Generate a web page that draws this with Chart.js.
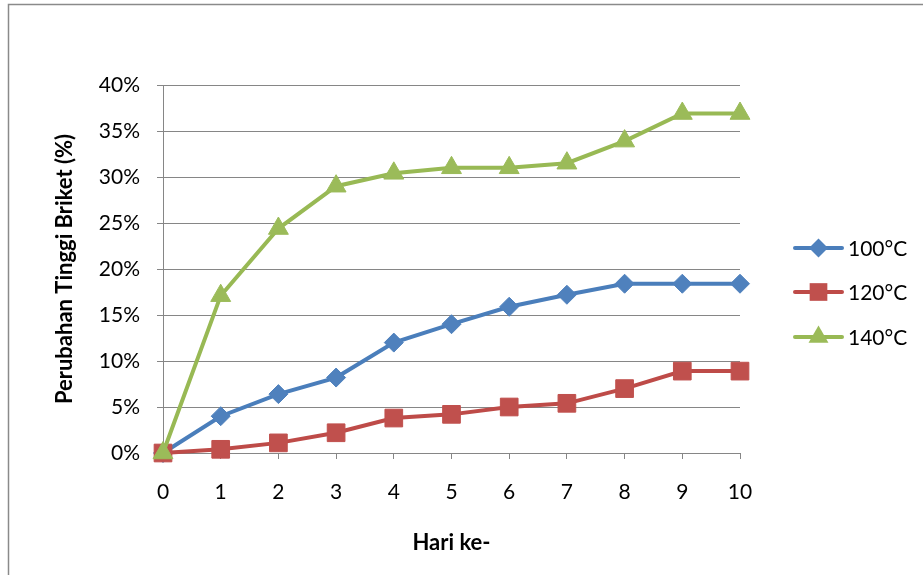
<!DOCTYPE html>
<html>
<head>
<meta charset="utf-8">
<script src="https://cdn.jsdelivr.net/npm/chart.js@4/dist/chart.umd.min.js"></script>
<style>
  html, body { margin: 0; padding: 0; background: #ffffff; }
  #wrap { width: 923px; height: 575px; position: relative; }
</style>
</head>
<body>
<div id="wrap"><canvas id="chart" width="923" height="575"></canvas></div>
<script>
// Days of observation
const days = [0, 1, 2, 3, 4, 5, 6, 7, 8, 9, 10];

// Change in briquette height (%) per drying temperature
const series100 = [0, 4.0, 6.4, 8.2, 12.0, 14.0, 15.9, 17.2, 18.4, 18.4, 18.4];
const series120 = [0, 0.4, 1.1, 2.2, 3.8, 4.2, 5.0, 5.4, 7.0, 8.9, 8.9];
const series140 = [0, 17.1, 24.4, 29.0, 30.4, 31.0, 31.0, 31.5, 33.9, 36.9, 36.9];

const seriesLabels = ['100°C', '120°C', '140°C'];

const FONT = 'Lato, "Open Sans", "Liberation Sans", sans-serif';
const GRID = '#868686';

function toPoints(values) {
  return values.map((v, i) => ({ x: days[i], y: v }));
}

const styles = [
  { line: '#4A7EBB', fill: '#4F81BD', shape: 'rectRot', radius: 9.5 },
  { line: '#BE4B48', fill: '#C0504D', shape: 'rect', radius: 12.5 },
  { line: '#98B954', fill: '#9BBB59', shape: 'triangle', radius: 11.5 }
];

const datasets = [series100, series120, series140].map((vals, i) => ({
  label: seriesLabels[i],
  data: toPoints(vals),
  borderColor: styles[i].line,
  backgroundColor: styles[i].fill,
  borderWidth: 4,
  pointStyle: styles[i].shape,
  pointRadius: styles[i].radius,
  pointHoverRadius: styles[i].radius,
  pointBackgroundColor: styles[i].fill,
  pointBorderColor: styles[i].fill,
  pointBorderWidth: 1,
  tension: 0,
  clip: false,
  order: 3 - i
}));

// Marker drawing for the legend, same shapes as the series points
function drawMarker(ctx, shape, x, y, r) {
  ctx.beginPath();
  if (shape === 'rectRot') {
    ctx.moveTo(x - r, y);
    ctx.lineTo(x, y - r);
    ctx.lineTo(x + r, y);
    ctx.lineTo(x, y + r);
  } else if (shape === 'rect') {
    const s = Math.SQRT1_2 * r;
    ctx.rect(x - s, y - s, 2 * s, 2 * s);
  } else {
    const w = r * Math.sqrt(3) / 2;
    ctx.moveTo(x, y - r);
    ctx.lineTo(x + w, y + r / 2);
    ctx.lineTo(x - w, y + r / 2);
  }
  ctx.closePath();
  ctx.fill();
}

const frameAndLegend = {
  id: 'frameAndLegend',
  beforeDraw(chart) {
    const ctx = chart.ctx;
    ctx.save();
    ctx.strokeStyle = '#8a8a8a';
    ctx.lineWidth = 1.5;
    ctx.strokeRect(8.5, 4.5, chart.width + 10, chart.height + 10);
    ctx.restore();
  },
  afterDraw(chart) {
    const ctx = chart.ctx;
    ctx.save();
    const rowsY = [248, 292, 337];
    chart.data.datasets.forEach((ds, i) => {
      const y = rowsY[i];
      ctx.strokeStyle = ds.borderColor;
      ctx.lineWidth = 4;
      ctx.lineCap = 'round';
      ctx.beginPath();
      ctx.moveTo(795, y);
      ctx.lineTo(842, y);
      ctx.stroke();
      ctx.fillStyle = ds.pointBackgroundColor;
      drawMarker(ctx, ds.pointStyle, 818.5, y, ds.pointRadius);
      ctx.fillStyle = '#000000';
      ctx.font = '21px ' + FONT;
      ctx.textAlign = 'left';
      ctx.textBaseline = 'middle';
      ctx.fillText(ds.label, 848, y + 1);
    });
    ctx.restore();
  }
};

new Chart(document.getElementById('chart'), {
  type: 'line',
  data: { datasets },
  plugins: [frameAndLegend],
  options: {
    responsive: false,
    animation: false,
    events: [],
    layout: { padding: { left: 0, right: 183, top: 85, bottom: 0 } },
    plugins: {
      legend: { display: false },
      tooltip: { enabled: false },
      title: { display: false }
    },
    scales: {
      x: {
        type: 'linear',
        min: 0,
        max: 10,
        afterFit(scale) { scale.height = 122; },
        ticks: {
          stepSize: 1,
          padding: 21,
          color: '#000000',
          font: { family: FONT, size: 21 }
        },
        grid: {
          drawOnChartArea: false,
          drawTicks: true,
          tickLength: 6,
          color: GRID,
          lineWidth: 1
        },
        border: { display: true, color: GRID, width: 1 },
        title: {
          display: true,
          text: 'Hari ke-',
          color: '#000000',
          font: { family: FONT, size: 22, weight: 'bold' },
          padding: { top: 0, bottom: 19 }
        }
      },
      y: {
        min: 0,
        max: 40,
        afterFit(scale) { scale.width = 163; },
        ticks: {
          stepSize: 5,
          padding: 17,
          color: '#000000',
          font: { family: FONT, size: 21 },
          callback: (v) => v + '%'
        },
        grid: {
          drawOnChartArea: true,
          drawTicks: true,
          tickLength: 6,
          color: GRID,
          lineWidth: 1
        },
        border: { display: true, color: GRID, width: 1 },
        title: {
          display: true,
          text: 'Perubahan Tinggi Briket (%)',
          color: '#000000',
          font: { family: FONT, size: 22, weight: 'bold' },
          padding: { top: 52, bottom: 0 }
        }
      }
    }
  }
});
</script>
</body>
</html>
